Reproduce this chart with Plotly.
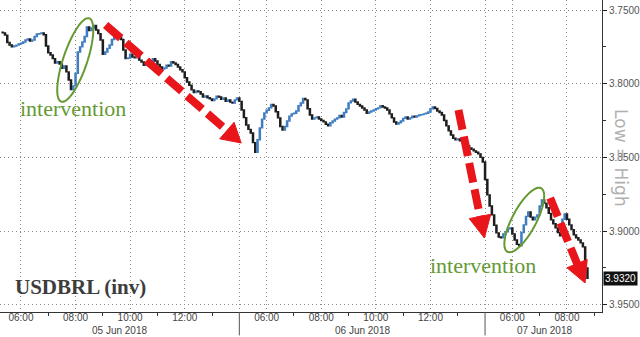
import numpy as np
import pandas as pd
import plotly.graph_objects as go

# ---------------- data (5-minute bars, USDBRL) ----------------
first_open = 3.7650
close_jun05 = [3.7655, 3.7670, 3.7720, 3.7737, 3.7750, 3.7744, 3.7738, 3.7731, 3.7725, 3.7717,
               3.7703, 3.7697, 3.7710, 3.7703, 3.7680, 3.7663, 3.7660, 3.7656, 3.7668, 3.7744,
               3.7790, 3.7805, 3.7830, 3.7859, 3.7850, 3.7866, 3.7895, 3.7880, 3.7920, 3.7975,
               3.8040, 3.8015, 3.7930, 3.7785, 3.7750, 3.7717, 3.7680, 3.7615, 3.7640, 3.7622,
               3.7605, 3.7636, 3.7660, 3.7703, 3.7800, 3.7785, 3.7760, 3.7737, 3.7700, 3.7683,
               3.7665, 3.7670, 3.7700, 3.7771, 3.7830, 3.7826, 3.7800, 3.7819, 3.7825, 3.7812,
               3.7840, 3.7853, 3.7875, 3.7866, 3.7845, 3.7853, 3.7830, 3.7846, 3.7870, 3.7887,
               3.7900, 3.7893, 3.7875, 3.7880, 3.7850, 3.7859, 3.7870, 3.7887, 3.7905, 3.7920,
               3.7960, 3.7988, 3.8010, 3.8042, 3.8060, 3.8049, 3.8055, 3.8070, 3.8090, 3.8083,
               3.8095, 3.8103, 3.8115, 3.8103, 3.8085, 3.8090, 3.8105, 3.8097, 3.8120, 3.8110,
               3.8125, 3.8131, 3.8110, 3.8097]
close_jun06 = [3.8120, 3.8178, 3.8230, 3.8280, 3.8310, 3.8334, 3.8400, 3.8465, 3.8380, 3.8300,
               3.8240, 3.8198, 3.8180, 3.8164, 3.8140, 3.8151, 3.8190, 3.8232, 3.8290, 3.8314,
               3.8290, 3.8253, 3.8220, 3.8205, 3.8200, 3.8185, 3.8150, 3.8131, 3.8100, 3.8110,
               3.8170, 3.8212, 3.8240, 3.8232, 3.8225, 3.8239, 3.8250, 3.8259, 3.8275, 3.8286,
               3.8265, 3.8253, 3.8240, 3.8232, 3.8215, 3.8226, 3.8195, 3.8171, 3.8130, 3.8117,
               3.8105, 3.8124, 3.8140, 3.8151, 3.8165, 3.8178, 3.8200, 3.8192, 3.8185, 3.8178,
               3.8170, 3.8164, 3.8150, 3.8158, 3.8165, 3.8178, 3.8205, 3.8232, 3.8260, 3.8273,
               3.8265, 3.8253, 3.8235, 3.8226, 3.8240, 3.8232, 3.8220, 3.8226, 3.8218, 3.8212,
               3.8210, 3.8205, 3.8200, 3.8192, 3.8170, 3.8158, 3.8168, 3.8185, 3.8195, 3.8212,
               3.8250, 3.8286, 3.8320, 3.8348, 3.8370, 3.8381, 3.8375, 3.8388, 3.8400, 3.8409,
               3.8420, 3.8436, 3.8445, 3.8456, 3.8465, 3.8476, 3.8500, 3.8531]
close_jun07 = [3.8650, 3.8754, 3.8830, 3.8890, 3.8960, 3.9012, 3.9040, 3.9046, 3.9020, 3.9005,
               3.8985, 3.8978, 3.9020, 3.9060, 3.9090, 3.9100, 3.9010, 3.8958, 3.8900, 3.8870,
               3.8905, 3.8924, 3.8905, 3.8890, 3.8830, 3.8788, 3.8810, 3.8842, 3.8880, 3.8924,
               3.8950, 3.8978, 3.9010, 3.9032, 3.8920, 3.8883, 3.8920, 3.8958, 3.8990, 3.9026,
               3.9045, 3.9060, 3.9080, 3.9107, 3.9250, 3.9320]
last_price = 3.9320

y_ticks = [3.75, 3.80, 3.85, 3.90, 3.95]
y_minor = [3.775, 3.825, 3.875, 3.925]
day_starts = ["2018-06-05", "2018-06-06", "2018-06-07"]
day_labels = ["05 Jun 2018", "06 Jun 2018", "07 Jun 2018"]
day_label_pos = ["2018-06-05 09:37", "2018-06-06 09:30", "2018-06-07 07:10"]
major_hours = ["06:00", "08:00", "10:00", "12:00"]
minor_hours = ["07:00", "09:00", "11:00", "13:00"]

# ---------------- build ----------------
times = (pd.date_range("2018-06-05 05:20", periods=len(close_jun05), freq="5min")
         .append(pd.date_range("2018-06-06 05:00", periods=len(close_jun06), freq="5min"))
         .append(pd.date_range("2018-06-07 05:00", periods=len(close_jun07), freq="5min")))
close = close_jun05 + close_jun06 + close_jun07
opens = [first_open] + close[:-1]
high = [max(o, c) for o, c in zip(opens, close)]
low = [min(o, c) for o, c in zip(opens, close)]

fig = go.Figure()
fig.add_trace(go.Candlestick(
    x=times, open=opens, high=high, low=low, close=close,
    increasing=dict(line=dict(color="#1e1e1e", width=1.4), fillcolor="#1e1e1e"),
    decreasing=dict(line=dict(color="#3f7cc0", width=1.4), fillcolor="#79aee0"),
    whiskerwidth=0, showlegend=False, hoverinfo="skip"))

# x ticks
tickvals, ticktext = [], []
minor_vals = []
for i, d in enumerate(day_starts):
    for h in major_hours:
        if d == "2018-06-07" and h in ("10:00", "12:00"):
            continue
        tickvals.append(f"{d} {h}")
        ticktext.append(h)
    for h in minor_hours:
        if d == "2018-06-07" and h in ("11:00", "13:00"):
            continue
        minor_vals.append(f"{d} {h}")
    if i > 0:
        tickvals.append(f"{d} 05:00")
        ticktext.append("")

W, H = 604.0, 312.0
def P(x, y):
    return x / W, 1 - y / H

shapes = []
# day separators below the axis
for d in day_starts[1:]:
    shapes.append(dict(type="line", xref="x", yref="paper", x0=f"{d} 05:00", x1=f"{d} 05:00",
                       y0=0, y1=-0.075, line=dict(color="#555", width=1)))

def ellipse(cx, cy, a, b, vx, vy):
    ang = np.arctan2(vy, vx)
    t = np.linspace(0, 2 * np.pi, 60)
    xs = cx + a * np.cos(t) * np.cos(ang) - b * np.sin(t) * np.sin(ang)
    ys = cy + a * np.cos(t) * np.sin(ang) + b * np.sin(t) * np.cos(ang)
    pts = [P(x, y) for x, y in zip(xs, ys)]
    return "M " + " L ".join(f"{px:.5f},{py:.5f}" for px, py in pts) + " Z"

green = "#659a33"
for (cx, cy, a, b, vx, vy) in [(75.5, 60, 44, 12, 27, -80), (526, 220, 36, 12, 32, -60)]:
    shapes.append(dict(type="path", xref="paper", yref="paper", path=ellipse(cx, cy, a, b, vx, vy),
                       line=dict(color=green, width=2), fillcolor="rgba(0,0,0,0)"))

red = "#e8161b"
def arrow(x0, y0, x1, y1, hl, hw):
    vx, vy = x1 - x0, y1 - y0
    L = (vx ** 2 + vy ** 2) ** 0.5
    ux, uy = vx / L, vy / L
    bx, by = x1 - hl * ux, y1 - hl * uy
    nx, ny = -uy, ux
    a0, a1 = P(x0, y0), P(bx + ux * 1, by + uy * 1)
    shapes.append(dict(type="line", xref="paper", yref="paper", x0=a0[0], y0=a0[1], x1=a1[0], y1=a1[1],
                       line=dict(color=red, width=8, dash="20px,7px")))
    p1, p2, p3 = P(x1, y1), P(bx + hw * nx, by + hw * ny), P(bx - hw * nx, by - hw * ny)
    shapes.append(dict(type="path", xref="paper", yref="paper",
                       path=f"M {p1[0]:.5f},{p1[1]:.5f} L {p2[0]:.5f},{p2[1]:.5f} L {p3[0]:.5f},{p3[1]:.5f} Z",
                       fillcolor=red, line=dict(color=red, width=1)))

arrow(106, 25, 242, 143, 19, 11)
arrow(460, 110, 486, 238, 22, 11)
arrow(552, 198, 587, 283, 21, 11)

annotations = []
for lab, pos in zip(day_labels, day_label_pos):
    annotations.append(dict(x=pos, xref="x", y=-0.058, yref="paper", text=lab, showarrow=False,
                            font=dict(size=10, color="#444", family="Liberation Sans"),
                            xanchor="center", yanchor="middle"))
for (x, y) in [(73, 108), (485, 265)]:
    px, py = P(x, y)
    annotations.append(dict(x=px, y=py, xref="paper", yref="paper", text="intervention", showarrow=False,
                            font=dict(size=22, color=green, family="Liberation Serif"),
                            xanchor="center", yanchor="middle"))
px, py = P(81, 287)
annotations.append(dict(x=px, y=py, xref="paper", yref="paper", text="<b>USDBRL (inv)</b>", showarrow=False,
                        font=dict(size=21, color="#3d3d3d", family="Liberation Serif"),
                        xanchor="center", yanchor="middle"))
px, py = P(623, 158)
annotations.append(dict(x=px, y=py, xref="paper", yref="paper", text="Low = High", showarrow=False,
                        textangle=90, font=dict(size=17, color="#b0b0b0", family="DejaVu Sans"),
                        xanchor="center", yanchor="middle"))
annotations.append(dict(x=1.002, xref="paper", y=last_price, yref="y", text=f"{last_price:.4f}",
                        showarrow=False, bgcolor="#111", borderpad=1,
                        font=dict(size=10, color="white", family="Liberation Sans"),
                        xanchor="left", yanchor="middle"))

grid = dict(showgrid=True, gridcolor="#8a8a8a", gridwidth=1, griddash="1px,3px")
fig.update_layout(
    width=640, height=337, margin=dict(l=0, r=36, t=0, b=25),
    paper_bgcolor="white", plot_bgcolor="white", showlegend=False,
    shapes=shapes, annotations=annotations,
    xaxis=dict(type="date", range=["2018-06-05 05:14", "2018-06-07 09:17"],
               rangebreaks=[dict(bounds=[14, 5], pattern="hour")],
               rangeslider=dict(visible=False),
               tickmode="array", tickvals=tickvals, ticktext=ticktext,
               ticks="", ticklen=0, ticklabelstandoff=-4,
               showline=True, linecolor="#333", linewidth=1, zeroline=False,
               tickfont=dict(size=10, color="#444", family="Liberation Sans"),
               minor=dict(tickmode="array", tickvals=minor_vals, ticks="outside", ticklen=3,
                          tickcolor="#333", showgrid=False),
               **grid),
    yaxis=dict(side="right", range=[3.9549, 3.7432],
               tickmode="array", tickvals=y_ticks, ticktext=[f"{v:.4f}" for v in y_ticks],
               ticks="outside", ticklen=4, tickcolor="#222",
               showline=True, linecolor="#333", linewidth=1, zeroline=False,
               tickfont=dict(size=10, color="#555", family="Liberation Sans"),
               minor=dict(tickmode="array", tickvals=y_minor, ticks="outside", ticklen=3,
                          tickcolor="#333", showgrid=False),
               **grid),
)
fig.write_html("out.html")
